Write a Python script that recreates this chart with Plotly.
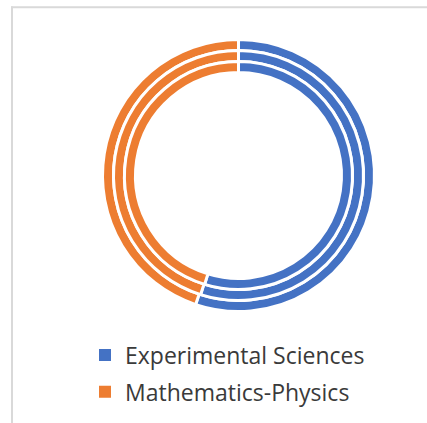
import plotly.graph_objects as go

W, H = 427, 423

# Series split for each ring (outer -> inner), in percent
labels = ["Experimental Sciences", "Mathematics-Physics"]
outer_ring = [55.1, 44.9]
middle_ring = [54.9, 45.1]
inner_ring = [54.8, 45.2]
colors = ["#4472C4", "#ED7D31"]

rings = [outer_ring, middle_ring, inner_ring]

# Ring geometry in pixels
cx, cy = 238.5, 175.5
radii = [136, 125, 114]
band = 11

fig = go.Figure()

# Legend carriers: one sub-pixel pie per series, each in its own legend group,
# so the legend squares have no white separators and the rows get spaced out
eps = 0.4
for i, (lab, col) in enumerate(zip(labels, colors)):
    fig.add_trace(go.Pie(
        labels=[lab],
        values=[outer_ring[i]],
        sort=False,
        hole=0.99,
        textinfo="none",
        hoverinfo="skip",
        marker=dict(colors=[col], line=dict(width=0)),
        domain=dict(x=[(cx - eps) / W, (cx + eps) / W],
                    y=[1 - (cy + eps) / H, 1 - (cy - eps) / H]),
        legendgroup=f"g{i}",
        showlegend=True,
    ))

for vals, r in zip(rings, radii):
    fig.add_trace(go.Pie(
        labels=labels,
        values=vals,
        sort=False,
        direction="clockwise",
        rotation=0,
        hole=(r - band) / r,
        textinfo="none",
        hoverinfo="label+percent",
        marker=dict(colors=colors, line=dict(color="white", width=3)),
        domain=dict(
            x=[(cx - r) / W, (cx + r) / W],
            y=[1 - (cy + r) / H, 1 - (cy - r) / H],
        ),
        showlegend=False,
    ))

# Light frame along the left and top edges
frame = "#D9D9D9"
fig.add_shape(type="line", xref="paper", yref="paper",
              x0=12 / W, x1=12 / W, y0=0, y1=1 - 6.5 / H,
              line=dict(color=frame, width=2))
fig.add_shape(type="line", xref="paper", yref="paper",
              x0=11 / W, x1=1, y0=1 - 7.3 / H, y1=1 - 7.3 / H,
              line=dict(color=frame, width=2))

fig.update_layout(
    width=W, height=H,
    margin=dict(l=0, r=0, t=0, b=0),
    paper_bgcolor="white",
    plot_bgcolor="white",
    showlegend=True,
    legend=dict(
        x=85 / W, xanchor="left",
        y=1 - 373.5 / H, yanchor="middle",
        traceorder="grouped",
        tracegroupgap=4,
        font=dict(family="Open Sans", size=23, color="#3A3A3A"),
        bgcolor="rgba(0,0,0,0)",
    ),
)

fig.write_html(
    "out.html",
    post_script="document.documentElement.style.overflow='hidden';"
                "document.body.style.overflow='hidden';",
)
